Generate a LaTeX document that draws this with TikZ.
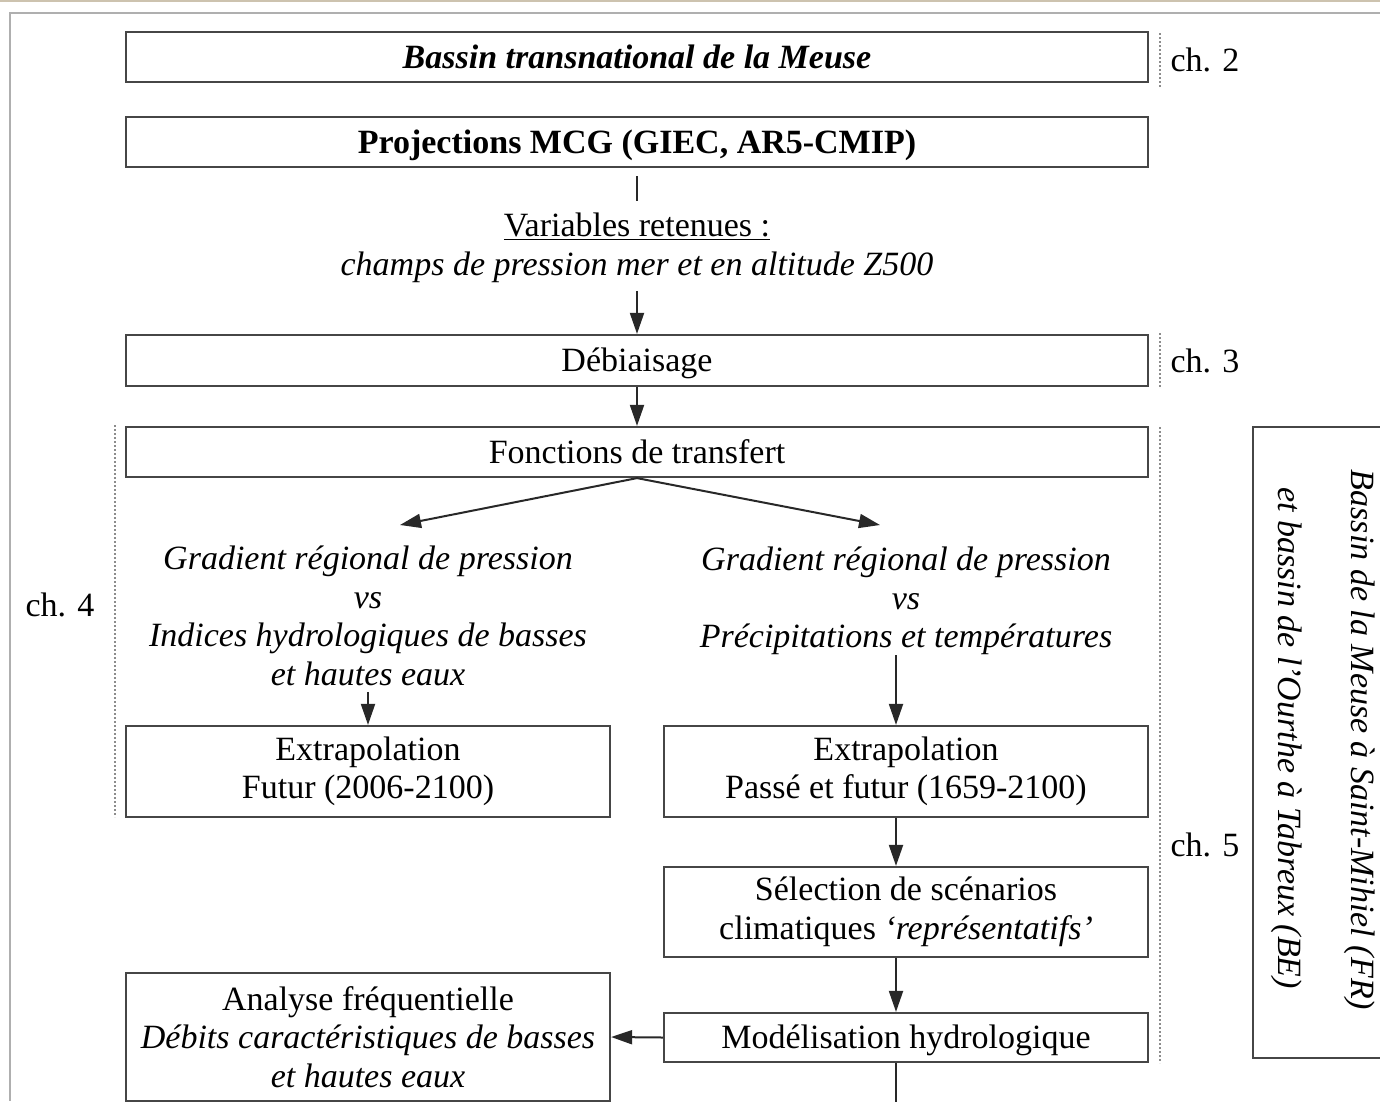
\documentclass[tikz,border=0pt]{standalone}
\usepackage{fontspec}
\setmainfont{Liberation Serif}
\usetikzlibrary{arrows.meta}
\definecolor{boxc}{RGB}{70,70,70}
\definecolor{linec}{RGB}{40,40,40}
\definecolor{dotc}{RGB}{140,140,140}
\definecolor{framec}{RGB}{175,175,175}
\definecolor{tanc}{RGB}{205,195,175}
\begin{document}
\begin{tikzpicture}[x=1pt,y=-1pt,
  box/.style={draw=boxc, line width=2.2pt, inner sep=0pt, align=center},
  onel/.style={text height=22pt, text depth=0pt},
  arr/.style={draw=linec, line width=2pt, -{Triangle[length=21pt,width=14pt]}},
  plain/.style={draw=linec, line width=2pt},
  dots/.style={draw=dotc, line width=2pt, dotted},
  txt/.style={align=center, inner sep=0pt},
  font=\fontsize{34}{38.5}\selectfont]
\useasboundingbox (0,0) rectangle (1380,1101);
% frame
\draw[draw=tanc, line width=1.5pt] (0,1) -- (1380,1);
\draw[draw=framec, line width=2pt] (1380,13) -- (10,13) -- (10,1101);
% main column
\node[box, onel, minimum width=1022pt, minimum height=50pt] (b1) at (637,57) {\textbf{\textit{Bassin transnational de la Meuse}}};
\node[box, onel, minimum width=1022pt, minimum height=50pt] (b2) at (637,142) {\textbf{Projections MCG (GIEC, AR5-CMIP)}};
\node[txt] (vars) at (637,248) {\underline{Variables retenues :}\\ \textit{champs de pression mer et en altitude Z500}};
\node[box, onel, minimum width=1022pt, minimum height=51pt] (b3) at (637,360.5) {Débiaisage};
\node[box, onel, minimum width=1022pt, minimum height=50pt] (b4) at (637,452) {Fonctions de transfert};
\node[txt] (gl) at (368,616) {\textit{Gradient régional de pression}\\ \textit{vs}\\ \textit{Indices hydrologiques de basses}\\ \textit{et hautes eaux}};
\node[txt] (gr) at (906,601) {\textit{Gradient régional de pression}\\ \textit{vs}\\ \textit{Précipitations et températures}};
\node[box, minimum width=484pt, minimum height=91pt] (b5l) at (368,771.5) {Extrapolation\\ Futur (2006-2100)};
\node[box, minimum width=484pt, minimum height=91pt] (b5r) at (906,771.5) {Extrapolation\\ Passé et futur (1659-2100)};
\node[box, minimum width=484pt, minimum height=90pt] (b6) at (906,912) {Sélection de scénarios\\ climatiques \textit{`représentatifs'}};
\node[box, onel, minimum width=484pt, minimum height=49pt] (b7) at (906,1037.5) {Modélisation hydrologique};
\node[box, minimum width=484pt, minimum height=128pt] (b8) at (368,1037) {Analyse fréquentielle\\ \textit{Débits caractéristiques de basses}\\ \textit{et hautes eaux}};
% right box
\node[draw=boxc, line width=2.2pt, minimum width=200pt, minimum height=631pt, inner sep=0pt] (rb) at (1353,742.5) {};
\node[txt, rotate=-90] (rt1) at (1360,740) {\textit{Bassin de la Meuse à Saint-Mihiel (FR)}};
\node[txt, rotate=-90] (rt2) at (1287,738) {\textit{et bassin de l'Ourthe à Tabreux (BE)}};
% chapter labels
\node[txt] (ch2) at (1205,60) {ch. 2};
\node[txt] (ch3) at (1205,361) {ch. 3};
\node[txt] (ch4) at (60,605) {ch. 4};
\node[txt] (ch5) at (1205,845) {ch. 5};
\draw[dots] (1160,33) -- (1160,87);
\draw[dots] (1160,333) -- (1160,388);
\draw[dots] (1160,427) -- (1160,1063);
\draw[dots] (115,425) -- (115,817);
% connectors
\coordinate (tl) at (400,525);
\coordinate (tr) at (880,525);
\coordinate (bot) at (896,1120);
\draw[plain, shorten <=8pt, shorten >=12pt] (b2.south) -- (vars.north);
\draw[arr, shorten <=8pt] (vars.south) -- (b3.north);
\draw[arr] (b3.south) -- (b4.north);
\draw[arr] (b4.south) -- (tl);
\draw[arr] (b4.south) -- (tr);
\draw[arr, shorten <=6pt] (gl.south) -- (b5l.north);
\draw[arr] ([xshift=-10pt]gr.south) -- ([xshift=-10pt]b5r.north);
\draw[arr] ([xshift=-10pt]b5r.south) -- ([xshift=-10pt]b6.north);
\draw[arr] ([xshift=-10pt]b6.south) -- ([xshift=-10pt]b7.north);
\draw[arr] (b7.west) -- (b8.east);
\draw[plain] ([xshift=-10pt]b7.south) -- (bot);
\end{tikzpicture}
\end{document}
